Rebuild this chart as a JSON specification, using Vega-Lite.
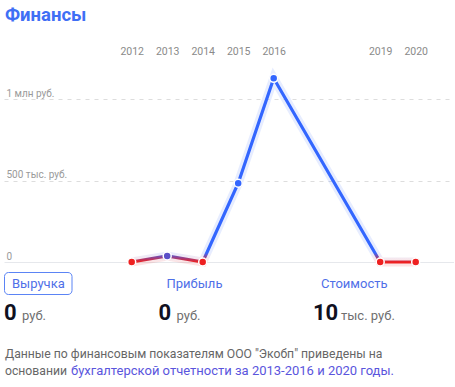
{
  "$schema": "https://vega.github.io/schema/vega-lite/v6.json",
  "autosize": {"type": "pad"},
  "padding": {"left": 2, "top": 5, "right": 0, "bottom": 0},
  "bounds": "flush",
  "spacing": 14,
  "config": {"view": {"stroke": null}, "font": "Roboto"},
  "vconcat": [
    {
      "width": 450,
      "height": 208,
      "title": {"text": "Финансы", "anchor": "start", "frame": "group", "orient": "top", "offset": 7, "fontSize": 18.5, "fontWeight": "bold", "color": "#3f6ff5", "font": "Roboto", "baseline": "alphabetic", "dx": 1},
      "data": {"values": [
        {"year": 2012, "value": 0},
        {"year": 2013, "value": 37000},
        {"year": 2014, "value": 0},
        {"year": 2015, "value": 484000},
        {"year": 2016, "value": 1129000},
        {"year": 2019, "value": 0},
        {"year": 2020, "value": 0}
      ]},
      "encoding": {
        "x": {"field": "year", "type": "quantitative",
          "scale": {"domain": [2008.403, 2021.079], "nice": false, "zero": false},
          "axis": {"orient": "top", "values": [2012, 2013, 2014, 2015, 2016, 2019, 2020], "format": "d", "title": null, "domain": false, "ticks": false, "tickSize": 0, "grid": false, "labelPadding": 6, "labelFontSize": 10.5, "labelColor": "#8a8a8a", "labelFlush": false, "labelOverlap": false}},
        "y": {"field": "value", "type": "quantitative",
          "scale": {"domain": [-49170, 1229256], "nice": false, "zero": false},
          "axis": {"orient": "left", "values": [0, 500000, 1000000], "title": null, "domain": false, "ticks": false, "tickSize": 0,
            "labelExpr": "datum.value == 0 ? '0' : (datum.value == 500000 ? '500 тыс. руб.' : '1 млн руб.')",
            "labelAlign": "left", "labelBaseline": "middle", "labelPadding": -2, "labelOffset": -6, "labelFontSize": 10, "labelColor": "#9a9a9a",
            "grid": true,
            "gridDash": {"condition": {"test": "datum.value === 0", "value": []}, "value": [4, 5]},
            "gridColor": {"condition": {"test": "datum.value === 0", "value": "#e6e8ec"}, "value": "#dddddd"},
            "gridWidth": 1}}
      },
      "layer": [
        {
          "mark": {"type": "line", "strokeWidth": 9, "opacity": 0.12,
            "color": {"gradient": "linear", "x1": 0, "y1": 0, "x2": 0, "y2": 1,
              "stops": [{"offset": 0, "color": "#3366ff"}, {"offset": 0.95, "color": "#3366ff"}, {"offset": 1, "color": "#ee2020"}]}}
        },
        {
          "mark": {"type": "line", "strokeWidth": 3.2,
            "color": {"gradient": "linear", "x1": 0, "y1": 0, "x2": 0, "y2": 1,
              "stops": [{"offset": 0, "color": "#3366ff"}, {"offset": 0.95, "color": "#3366ff"}, {"offset": 1, "color": "#ee2020"}]}}
        },
        {
          "mark": {"type": "point", "shape": "circle", "filled": true, "size": 64, "stroke": "#ffffff", "strokeWidth": 1.5, "opacity": 1},
          "encoding": {
            "fill": {"condition": [{"test": "datum.value > 100000", "value": "#3366ff"}, {"test": "datum.value > 0", "value": "#5a4fc8"}], "value": "#ee2020"}
          }
        }
      ]
    },
    {
      "width": 309,
      "height": 70,
      "encoding": {
        "x": {"field": "col", "type": "nominal", "scale": {"type": "point", "domain": ["rev", "profit", "cost"], "padding": 0}, "axis": null},
        "y": {"field": "row", "type": "nominal", "scale": {"type": "point", "domain": ["tab", "value", "note"], "padding": 0}, "axis": null}
      },
      "layer": [
        {
          "data": {"values": [{"col": "rev", "row": "tab"}]},
          "mark": {"type": "point", "filled": false, "size": 4, "stroke": "#5b84f5", "strokeWidth": 1, "opacity": 1,
            "shape": "M4.5,-11.5 H64 A4,4 0 0 1 68,-7.5 V6.5 A4,4 0 0 1 64,10.5 H4.5 A4,4 0 0 1 0.5,6.5 V-7.5 A4,4 0 0 1 4.5,-11.5 Z"}
        },
        {
          "data": {"values": [
            {"col": "rev", "row": "tab", "label": "Выручка"},
            {"col": "profit", "row": "tab", "label": "Прибыль"},
            {"col": "cost", "row": "tab", "label": "Стоимость"}
          ]},
          "mark": {"type": "text", "align": "left", "baseline": "middle", "dx": 8, "fontSize": 13, "color": "#4f6fe8"},
          "encoding": {"text": {"field": "label"}}
        },
        {
          "data": {"name": "nums", "values": [
            {"col": "rev", "row": "value", "num": "0", "unit": "руб."},
            {"col": "profit", "row": "value", "num": "0", "unit": "руб."},
            {"col": "cost", "row": "value", "num": "10", "unit": "тыс. руб."}
          ]},
          "layer": [
            {
              "mark": {"type": "text", "align": "left", "baseline": "alphabetic", "dy": 1, "fontSize": 22, "fontWeight": "bold", "color": "#10111f"},
              "encoding": {"text": {"field": "num"}}
            },
            {
              "transform": [{"filter": "datum.col != 'cost'"}],
              "mark": {"type": "text", "align": "left", "baseline": "alphabetic", "dy": 1, "dx": 18, "fontSize": 13, "color": "#6f6f6f"},
              "encoding": {"text": {"field": "unit"}}
            },
            {
              "transform": [{"filter": "datum.col == 'cost'"}],
              "mark": {"type": "text", "align": "left", "baseline": "alphabetic", "dy": 1, "dx": 28, "fontSize": 13, "color": "#6f6f6f"},
              "encoding": {"text": {"field": "unit"}}
            }
          ]
        },
        {
          "data": {"values": [{"col": "rev", "row": "note", "text": "Данные по финансовым показателям ООО \"Экобп\" приведены на\nосновании", "link": "бухгалтерской отчетности за 2013-2016 и 2020 годы."}]},
          "layer": [
            {
              "mark": {"type": "text", "align": "left", "baseline": "alphabetic", "dx": 1, "dy": 4, "lineBreak": "\n", "lineHeight": 17, "fontSize": 12.2, "color": "#666666"},
              "encoding": {"text": {"field": "text"}}
            },
            {
              "mark": {"type": "text", "align": "left", "baseline": "alphabetic", "dx": 67, "dy": 21, "fontSize": 13, "color": "#5a55dd"},
              "encoding": {"text": {"field": "link"}}
            }
          ]
        }
      ]
    }
  ]
}
